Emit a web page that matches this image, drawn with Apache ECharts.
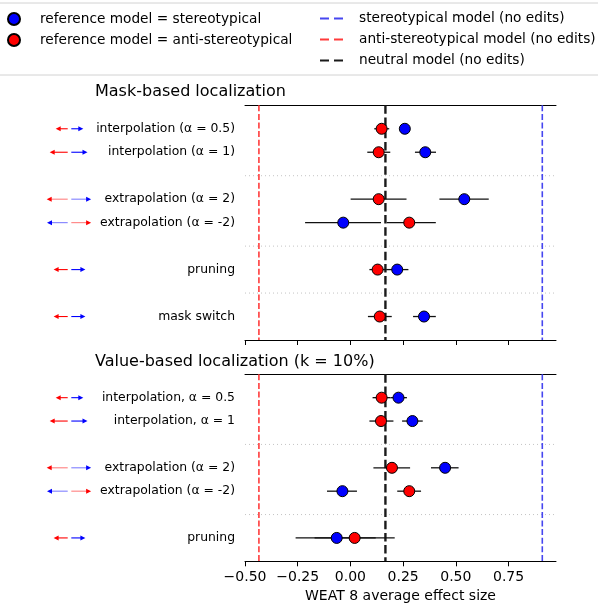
<!DOCTYPE html>
<html>
<head>
<meta charset="utf-8">
<script src="https://cdn.jsdelivr.net/npm/echarts@6/dist/echarts.min.js"></script>
<style>
html,body{margin:0;padding:0;background:#fff;}
#chart{width:598px;height:606px;}
</style>
</head>
<body>
<div id="chart"></div>
<script>
// ---------- data ----------
const xTicks = [-0.5, -0.25, 0, 0.25, 0.5, 0.75];
const refNames = ['stereotypical model (no edits)', 'anti-stereotypical model (no edits)', 'neutral model (no edits)'];
const refValues = [0.910, -0.434, 0.166];

const maskTitle = 'Mask-based localization';
const maskLabels = ['interpolation (α = 0.5)', 'interpolation (α = 1)', 'extrapolation (α = 2)', 'extrapolation (α = -2)', 'pruning', 'mask switch'];
const maskRows = [0, 1, 3, 4, 6, 8];
const maskSeparators = [2, 5, 7];
const maskStereoMean = [0.258, 0.355, 0.540, -0.034, 0.222, 0.349];
const maskStereoLo = [0.240, 0.306, 0.422, -0.215, 0.170, 0.297];
const maskStereoHi = [0.276, 0.406, 0.656, 0.145, 0.275, 0.405];
const maskAntiMean = [0.148, 0.134, 0.134, 0.279, 0.129, 0.139];
const maskAntiLo = [0.113, 0.080, 0.001, 0.172, 0.090, 0.083];
const maskAntiHi = [0.184, 0.189, 0.266, 0.405, 0.170, 0.196];
const maskArrowLeft = [0.40, 0.60, 0.70, 0.69, 0.47, 0.47];
const maskArrowRight = [0.40, 0.54, 0.66, 0.66, 0.47, 0.47];
const maskArrowLeftBlue = [0, 0, 0, 1, 0, 0];
const maskArrowFaded = [0, 0, 1, 1, 0, 0];

const valueTitle = 'Value-based localization (k = 10%)';
const valueLabels = ['interpolation, α = 0.5', 'interpolation, α = 1', 'extrapolation (α = 2)', 'extrapolation (α = -2)', 'pruning'];
const valueRows = [0, 1, 3, 4, 6];
const valueSeparators = [2, 5];
const valueStereoMean = [0.228, 0.294, 0.449, -0.038, -0.065];
const valueStereoLo = [0.190, 0.245, 0.382, -0.111, -0.260];
const valueStereoHi = [0.268, 0.343, 0.513, 0.031, 0.120];
const valueAntiMean = [0.148, 0.145, 0.197, 0.279, 0.020];
const valueAntiLo = [0.105, 0.090, 0.109, 0.222, -0.170];
const valueAntiHi = [0.190, 0.204, 0.283, 0.335, 0.210];
const valueArrowLeft = [0.40, 0.60, 0.70, 0.69, 0.47];
const valueArrowRight = [0.40, 0.54, 0.66, 0.66, 0.47];
const valueArrowLeftBlue = [0, 0, 0, 1, 0];
const valueArrowFaded = [0, 0, 1, 1, 0];

const stereoName = 'reference model = stereotypical';
const antiName = 'reference model = anti-stereotypical';
const xLabelName = 'WEAT 8 average effect size';

// ---------- styling ----------
const FONT = 'DejaVu Sans';
const BLUE = '#0000ff', RED = '#ff0000';
const refColors = ['#4646f0', '#ff3b3b', '#1a1a1a'];
const refWidths = [1.6, 1.6, 2.4];
const refDash = [[6, 2.6], [6, 2.6], [8.5, 3.7]];
const X_MIN = -0.5, X_MAX = 0.975;

const panels = [
  {title: maskTitle, labels: maskLabels, rows: maskRows, seps: maskSeparators, yMax: 9,
   sM: maskStereoMean, sL: maskStereoLo, sH: maskStereoHi, aM: maskAntiMean, aL: maskAntiLo, aH: maskAntiHi,
   arL: maskArrowLeft, arR: maskArrowRight, arB: maskArrowLeftBlue, arF: maskArrowFaded,
   top: 105.3, height: 234.7, titleTop: 83.5, showLabels: false},
  {title: valueTitle, labels: valueLabels, rows: valueRows, seps: valueSeparators, yMax: 7,
   sM: valueStereoMean, sL: valueStereoLo, sH: valueStereoHi, aM: valueAntiMean, aL: valueAntiLo, aH: valueAntiHi,
   arL: valueArrowLeft, arR: valueArrowRight, arB: valueArrowLeftBlue, arF: valueArrowFaded,
   top: 374.3, height: 187, titleTop: 353.5, showLabels: true}
];

const fmt = v => (v < 0 ? '\u2212' : '') + Math.abs(v).toFixed(2);

function errRender(params, api) {
  const a = api.coord([api.value(0), api.value(2)]);
  const b = api.coord([api.value(1), api.value(2)]);
  return {type: 'line', shape: {x1: a[0], y1: a[1], x2: b[0], y2: b[1]},
          style: {stroke: '#111', lineWidth: 1.3}};
}
function sepRender(params, api) {
  const cs = params.coordSys;
  const p = api.coord([X_MIN, api.value(0)]);
  return {type: 'line', shape: {x1: cs.x, y1: p[1], x2: cs.x + cs.width, y2: p[1]},
          style: {stroke: '#c4c4c4', lineWidth: 1, lineDash: [1, 3]}};
}
function arrowShape(p0, p1, color, faded) {
  const dir = p1[0] > p0[0] ? 1 : -1;
  const hl = 5, hw = 2.5;
  return [
    {type: 'line', shape: {x1: p0[0], y1: p0[1], x2: p1[0] - dir * (hl - 1), y2: p1[1]},
     style: {stroke: color, lineWidth: 1.1, opacity: faded ? 0.5 : 1}},
    {type: 'polygon', shape: {points: [[p1[0], p1[1]], [p1[0] - dir * hl, p1[1] - hw], [p1[0] - dir * hl, p1[1] + hw]]},
     style: {fill: color}}
  ];
}
function arrowRender(params, api) {
  const row = api.value(0), lLen = api.value(1), rLen = api.value(2), lb = api.value(3), faded = api.value(4);
  const gap = 0.06;
  const lc = lb ? BLUE : RED, rc = lb ? RED : BLUE;
  const a0 = api.coord([-gap, row]), a1 = api.coord([-gap - lLen, row]);
  const b0 = api.coord([gap, row]), b1 = api.coord([gap + rLen, row]);
  return {type: 'group', children: arrowShape(a0, a1, lc, faded).concat(arrowShape(b0, b1, rc, faded))};
}

const grid = [], xAxis = [], yAxis = [], series = [], title = [];
panels.forEach((p, i) => {
  grid.push({left: 245, right: 42, top: p.top, height: p.height});
  grid.push({left: 39.5, width: 60, top: p.top, height: p.height});
  const gMain = i * 2, gArrow = i * 2 + 1;
  title.push({text: p.title, left: 95, top: p.titleTop, padding: 0,
              textStyle: {fontFamily: FONT, fontSize: 16, fontWeight: 'normal', color: '#000'}});
  // bottom axis
  xAxis.push({type: 'value', gridIndex: gMain, position: 'bottom', min: X_MIN, max: X_MAX,
    axisLine: {show: true, onZero: false, lineStyle: {color: '#000', width: 1}},
    axisTick: {show: true, length: 5, customValues: xTicks, lineStyle: {color: '#000', width: 1}},
    axisLabel: {show: p.showLabels, customValues: xTicks, formatter: fmt, margin: 9,
                fontFamily: FONT, fontSize: 14, color: '#000'},
    splitLine: {show: false},
    name: p.showLabels ? xLabelName : '', nameLocation: 'middle', nameGap: 28.5,
    nameTextStyle: {fontFamily: FONT, fontSize: 14, color: '#000'}});
  // top spine
  xAxis.push({type: 'value', gridIndex: gMain, position: 'top', min: X_MIN, max: X_MAX,
    axisLine: {show: true, onZero: false, lineStyle: {color: '#000', width: 1}},
    axisTick: {show: false}, axisLabel: {show: false}, splitLine: {show: false}});
  // arrow axis
  xAxis.push({type: 'value', gridIndex: gArrow, min: -1, max: 1, show: false});
  const xMainIdx = i * 3, xArrowIdx = i * 3 + 2;
  yAxis.push({type: 'value', gridIndex: gMain, min: -1, max: p.yMax, interval: 1, inverse: true,
    axisLine: {show: false}, axisTick: {show: false}, splitLine: {show: false},
    axisLabel: {show: true, margin: 10, fontFamily: FONT, fontSize: 12.4, color: '#000',
      formatter: v => { const k = p.rows.indexOf(v); return k >= 0 ? p.labels[k] : ''; }}});
  yAxis.push({type: 'value', gridIndex: gArrow, min: -1, max: p.yMax, inverse: true, show: false});
  const yMainIdx = i * 2, yArrowIdx = i * 2 + 1;

  series.push({type: 'custom', xAxisIndex: xMainIdx, yAxisIndex: yMainIdx, renderItem: sepRender, z: 1,
    data: p.seps.map(r => [r]), encode: {y: 0}, silent: true});
  refNames.forEach((n, k) => {
    series.push({type: 'line', name: n, xAxisIndex: xMainIdx, yAxisIndex: yMainIdx, z: 3,
      color: refColors[k], symbol: 'none', silent: true, animation: false,
      lineStyle: {color: refColors[k], width: refWidths[k], type: refDash[k]},
      data: [[refValues[k], -1], [refValues[k], p.yMax]]});
  });
  series.push({type: 'custom', xAxisIndex: xMainIdx, yAxisIndex: yMainIdx, renderItem: errRender, z: 4,
    encode: {x: [0, 1], y: 2}, silent: true,
    data: p.rows.map((r, k) => [p.sL[k], p.sH[k], r])});
  series.push({type: 'custom', xAxisIndex: xMainIdx, yAxisIndex: yMainIdx, renderItem: errRender, z: 4,
    encode: {x: [0, 1], y: 2}, silent: true,
    data: p.rows.map((r, k) => [p.aL[k], p.aH[k], r])});
  series.push({type: 'scatter', name: stereoName, xAxisIndex: xMainIdx, yAxisIndex: yMainIdx, z: 6,
    symbol: 'circle', symbolSize: 11, color: BLUE,
    itemStyle: {color: BLUE, borderColor: '#000', borderWidth: 1, opacity: 1},
    data: p.rows.map((r, k) => [p.sM[k], r])});
  series.push({type: 'scatter', name: antiName, xAxisIndex: xMainIdx, yAxisIndex: yMainIdx, z: 6,
    symbol: 'circle', symbolSize: 11, color: RED,
    itemStyle: {color: RED, borderColor: '#000', borderWidth: 1, opacity: 1},
    data: p.rows.map((r, k) => [p.aM[k], r])});
  series.push({type: 'custom', xAxisIndex: xArrowIdx, yAxisIndex: yArrowIdx, renderItem: arrowRender, z: 4,
    encode: {y: 0}, silent: true,
    data: p.rows.map((r, k) => [r, p.arL[k], p.arR[k], p.arB[k], p.arF[k]])});
});

const dashIcon = 'path://M0,0h9v2h-9zM14,0h9v2h-9z';
const option = {
  animation: false,
  backgroundColor: '#fff',
  textStyle: {fontFamily: FONT},
  title: title,
  grid: grid,
  xAxis: xAxis,
  yAxis: yAxis,
  legend: [
    {orient: 'vertical', left: 7, top: 11, padding: 0, itemGap: 5, itemWidth: 12, itemHeight: 12,
     selectedMode: false,
     data: [{name: stereoName, icon: 'circle'}, {name: antiName, icon: 'circle'}],
     textStyle: {fontFamily: FONT, fontSize: 13.7, color: '#000', lineHeight: 16, padding: [0, 0, 0, 15]}},
    {orient: 'vertical', left: 320, top: 10.5, padding: 0, itemGap: 5, itemWidth: 23, itemHeight: 2.5,
     selectedMode: false,
     itemStyle: {borderWidth: 0},
     data: refNames.map(n => ({name: n, icon: dashIcon})),
     textStyle: {fontFamily: FONT, fontSize: 13.7, color: '#000', lineHeight: 16, padding: [0, 0, 0, 11]}}
  ],
  graphic: [
    {type: 'rect', shape: {x: -3, y: 3, width: 604, height: 72, r: 3}, z: -1,
     style: {fill: 'none', stroke: '#d2d2d2', lineWidth: 1}}
  ],
  series: series
};

const chart = echarts.init(document.getElementById('chart'), null, {renderer: 'canvas'});
chart.setOption(option);
</script>
</body>
</html>
